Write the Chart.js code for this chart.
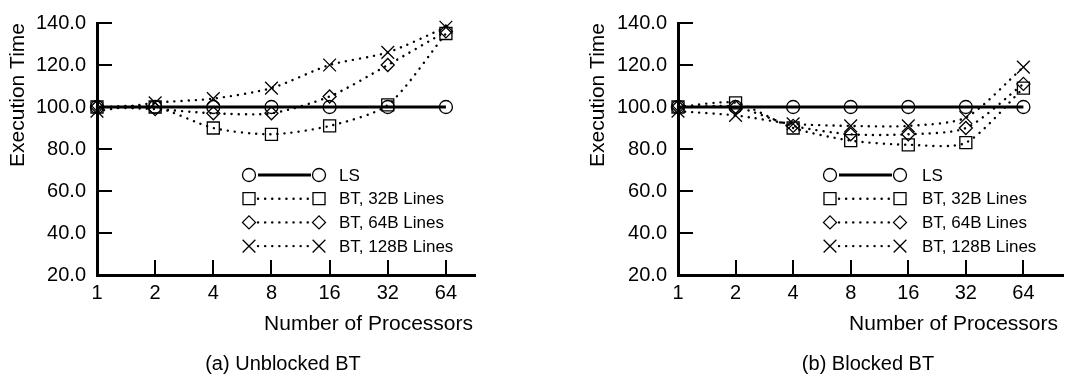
<!DOCTYPE html>
<html><head><meta charset="utf-8">
<script src="https://cdn.jsdelivr.net/npm/chart.js@4"></script>
<style>
html,body{margin:0;padding:0;background:#fff;width:1074px;height:380px;overflow:hidden}
canvas{position:absolute;top:0}
#c1{left:0}#c2{left:540px}
</style></head><body>
<canvas id="c1" width="540" height="380"></canvas>
<canvas id="c2" width="534" height="380"></canvas>
<script>
// ---- data ----
const processors = ['1','2','4','8','16','32','64'];
const yTicks = [20,40,60,80,100,120,140];
const seriesNames = ['LS','BT, 32B Lines','BT, 64B Lines','BT, 128B Lines'];
const unblockedLS  = [100,100,100,100,100,100,100];
const unblocked32  = [100,100,90,87,91,101,135];
const unblocked64  = [100,99,97,97,105,120,136];
const unblocked128 = [98,102,104,109,120,126,138];
const blockedLS  = [100,100,100,100,100,100,100];
const blocked32  = [100,102,90,84,82,83,109];
const blocked64  = [100,100,91,87,87,90,111];
const blocked128 = [98,96,92,91,91,95,119];
const xTitle = 'Number of Processors';
const yTitle = 'Execution Time';
const captions = ['(a) Unblocked BT','(b) Blocked BT'];

const FONT = '"Liberation Sans", Arial, Helvetica, sans-serif';
Chart.defaults.font.family = FONT;
Chart.defaults.color = '#000';

const styles = [
  {pointStyle:'circle',  pointRadius:6.5, borderWidth:3,   borderDash:[],      cap:'butt'},
  {pointStyle:'rect',    pointRadius:8.5, borderWidth:2.4, borderDash:[0.1,7], cap:'round'},
  {pointStyle:'rectRot', pointRadius:6.5, borderWidth:2.4, borderDash:[0.1,7], cap:'round'},
  {pointStyle:'crossRot',pointRadius:9,   borderWidth:2.4, borderDash:[0.1,7], cap:'round'}
];

function makeDatasets(seriesList){
  return seriesList.map((vals,i)=>({
    label: seriesNames[i],
    data: vals.map((v,k)=>({x:k, y:v})),
    borderColor:'#000',
    backgroundColor:'rgba(0,0,0,0)',
    borderWidth: styles[i].borderWidth,
    borderDash: styles[i].borderDash,
    borderCapStyle: styles[i].cap,
    pointStyle: styles[i].pointStyle,
    pointRadius: styles[i].pointRadius,
    pointHoverRadius: styles[i].pointRadius,
    pointBorderWidth: 1.3,
    pointBorderColor:'#000',
    pointBackgroundColor:'rgba(0,0,0,0)',
    tension: 0.25,
    clip: false,
    fill: false
  }));
}

const inwardTicks = {
  id:'inwardTicks',
  beforeDatasetsDraw(chart){
    const {ctx, chartArea:a, scales:{x,y}} = chart;
    ctx.save(); ctx.strokeStyle='#000'; ctx.lineWidth=2; ctx.setLineDash([]);
    ctx.beginPath();
    y.ticks.forEach(t=>{ const py=Math.round(y.getPixelForValue(t.value)); ctx.moveTo(a.left,py); ctx.lineTo(a.left+15,py); });
    x.ticks.forEach(t=>{ const px=Math.round(x.getPixelForValue(t.value)); ctx.moveTo(px,a.bottom); ctx.lineTo(px,a.bottom-15); });
    ctx.stroke(); ctx.restore();
  }
};

const pairLegend = {
  id:'pairLegend',
  afterDatasetsDraw(chart, args, o){
    const {ctx, chartArea:a} = chart;
    const x1 = a.left + o.dx, x2 = x1 + o.span, tx = x2 + o.gap;
    chart.data.datasets.forEach((ds,i)=>{
      const yy = a.top + o.dy + i*o.rowH;
      ctx.save();
      ctx.strokeStyle='#000'; ctx.lineWidth = ds.borderWidth; ctx.setLineDash(ds.borderDash||[]); ctx.lineCap = ds.borderCapStyle;
      ctx.beginPath(); ctx.moveTo(x1+9,yy); ctx.lineTo(x2-8,yy); ctx.stroke();
      ctx.setLineDash([]); ctx.lineCap='butt';
      ctx.lineWidth = ds.pointBorderWidth; ctx.strokeStyle='#000'; ctx.fillStyle='rgba(0,0,0,0)';
      const ps = {pointStyle: ds.pointStyle, radius: ds.pointRadius, borderWidth: ds.pointBorderWidth, rotation:0};
      Chart.helpers.drawPoint(ctx, ps, x1, yy);
      Chart.helpers.drawPoint(ctx, ps, x2, yy);
      ctx.fillStyle='#000'; ctx.font='17px '+FONT; ctx.textBaseline='middle'; ctx.textAlign='left';
      ctx.fillText(ds.label, tx, yy+1);
      ctx.restore();
    });
  }
};

const texts = {
  id:'texts',
  afterDraw(chart, args, o){
    const ctx = chart.ctx;
    ctx.save(); ctx.fillStyle='#000';
    ctx.font='21px '+FONT; ctx.textBaseline='alphabetic';
    ctx.textAlign='right'; ctx.fillText(xTitle, o.xTitleRight, o.xTitleBase);
    ctx.font='20px '+FONT;
    ctx.textAlign='center'; ctx.fillText(o.caption, o.capX, o.capBase);
    ctx.restore();
  }
};

function makeChart(id, seriesList, cfg){
  return new Chart(document.getElementById(id), {
    type:'line',
    data:{ datasets: makeDatasets(seriesList) },
    options:{
      responsive:false, animation:false, devicePixelRatio:1,
      layout:{ padding:{left:0, top:14, right:cfg.padRight, bottom:0} },
      plugins:{
        legend:{display:false}, tooltip:{enabled:false},
        pairLegend:{dx:cfg.legDx, dy:152, rowH:23.7, span:70, gap:cfg.legGap},
        texts:{xTitleRight:cfg.xTitleRight, xTitleBase:330, caption:cfg.caption, capX:cfg.capX, capBase:370}
      },
      scales:{
        x:{ type:'linear', min:0, max:cfg.xMax,
          afterBuildTicks: s=>{ s.ticks = processors.map((p,i)=>({value:i})); },
          afterFit: s=>{ s.height = 105; },
          ticks:{ callback:v=>processors[v] ?? '', padding:6, font:{size:20}, color:'#000', maxRotation:0, autoSkip:false },
          grid:{ display:false, drawTicks:false },
          border:{ display:true, width:3, color:'#000' }
        },
        y:{ type:'linear', min:20, max:140,
          afterBuildTicks: s=>{ s.ticks = yTicks.map(v=>({value:v})); },
          afterFit: s=>{ s.width = cfg.yWidth; },
          ticks:{ callback:v=>v.toFixed(1), padding:11, font:{size:20}, color:'#000' },
          grid:{ display:false, drawTicks:false },
          border:{ display:true, width:3, color:'#000' },
          title:{ display:true, text:yTitle, align:'end', font:{size:21}, color:'#000', padding:{top:cfg.yTitlePad, bottom:0} }
        }
      }
    },
    plugins:[inwardTicks, pairLegend, texts]
  });
}

makeChart('c1', [unblockedLS, unblocked32, unblocked64, unblocked128], {
  padRight:65, xMax:6.5, yWidth:97, yTitlePad:6, legDx:152, legGap:20,
  xTitleRight:473, caption:captions[0], capX:283
});
makeChart('c2', [blockedLS, blocked32, blocked64, blocked128], {
  padRight:0, xMax:6.7, yWidth:138, yTitlePad:46, legDx:152, legGap:22,
  xTitleRight:518, caption:captions[1], capX:328
});
</script>
</body></html>
